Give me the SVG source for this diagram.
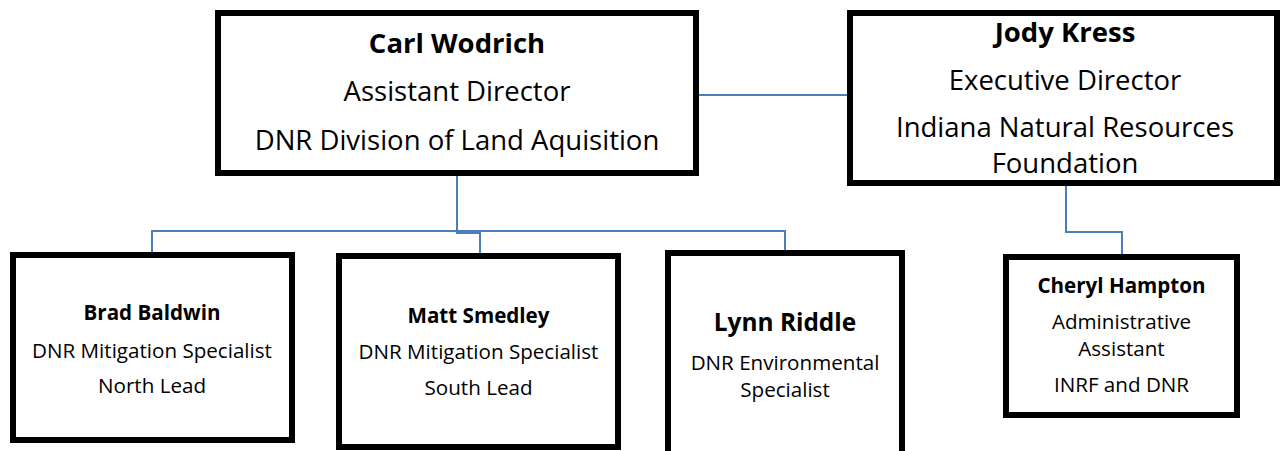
<svg xmlns="http://www.w3.org/2000/svg" width="1280" height="451" viewBox="0 0 1280 451">
<style>
.box{fill:#fff;stroke:#000;stroke-width:6}
.con{fill:none;stroke:#4a7ebb;stroke-width:2}
text{font-family:"Open Sans","Liberation Sans",sans-serif;fill:#000;text-anchor:middle}
.b{font-weight:bold}
.t{font-size:27.5px}
.s{font-size:20.6px}
.m{font-size:24.4px}
</style>
<rect width="1280" height="451" fill="#fff"/>
<g id="connectors">
<path class="con" d="M699,95 H847"/>
<path class="con" d="M457,176 V233 H480 V253"/>
<path class="con" d="M152,252 V231 H785 V250"/>
<path class="con" d="M1066,186 V232 H1122 V254"/>
</g>
<g id="carl">
<rect class="box" x="218" y="13" width="478" height="160"/>
<text class="t b" x="457" y="53">Carl Wodrich</text>
<text class="t" x="457" y="101">Assistant Director</text>
<text class="t" x="457" y="150">DNR Division of Land Aquisition</text>
</g>
<g id="jody">
<rect class="box" x="850" y="13" width="427" height="170"/>
<text class="t b" x="1065" y="42">Jody Kress</text>
<text class="t" x="1065" y="90">Executive Director</text>
<text class="t" x="1065" y="137">Indiana Natural Resources</text>
<text class="t" x="1065" y="173">Foundation</text>
</g>
<g id="brad">
<rect class="box" x="13" y="255" width="279" height="185"/>
<text class="s b" x="152" y="320">Brad Baldwin</text>
<text class="s" x="152" y="358">DNR Mitigation Specialist</text>
<text class="s" x="152" y="393">North Lead</text>
</g>
<g id="matt">
<rect class="box" x="339" y="256" width="279" height="191"/>
<text class="s b" x="478.5" y="323">Matt Smedley</text>
<text class="s" x="478.5" y="359">DNR Mitigation Specialist</text>
<text class="s" x="478.5" y="395">South Lead</text>
</g>
<g id="lynn">
<rect class="box" x="668" y="253" width="234" height="220"/>
<text class="m b" x="785" y="331">Lynn Riddle</text>
<text class="s" x="785" y="370">DNR Environmental</text>
<text class="s" x="785" y="397">Specialist</text>
</g>
<g id="cheryl">
<rect class="box" x="1006" y="257" width="231" height="158"/>
<text class="s b" x="1121.5" y="293">Cheryl Hampton</text>
<text class="s" x="1121.5" y="328.5">Administrative</text>
<text class="s" x="1121.5" y="355.5">Assistant</text>
<text class="s" x="1121.5" y="392">INRF and DNR</text>
</g>
</svg>
